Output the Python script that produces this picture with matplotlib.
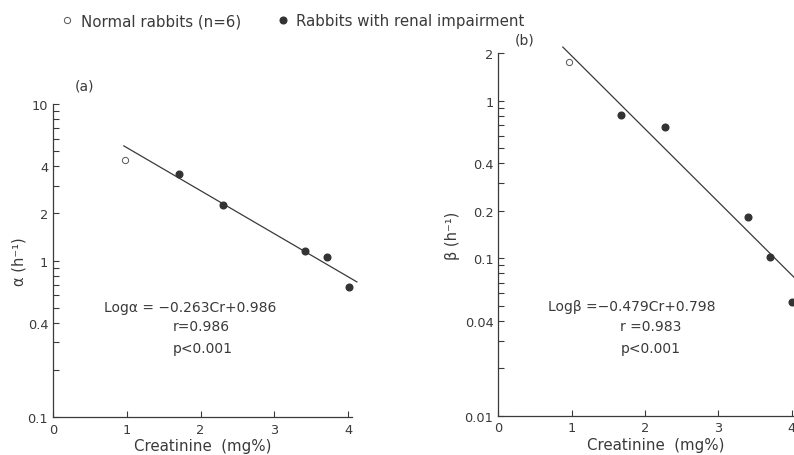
import matplotlib.pyplot as plt
from matplotlib.lines import Line2D
from matplotlib.ticker import FixedLocator, LogLocator, NullFormatter

# creatinine (mg%) and rate constants
normal_cr = [0.98]
normal_alpha = [4.4]
renal_cr = [1.71, 2.31, 3.42, 3.71, 4.01]
renal_alpha = [3.55, 2.26, 1.15, 1.05, 0.68]

normal_cr_b = [0.96]
normal_beta = [1.76]
renal_cr_b = [1.68, 2.28, 3.40, 3.71, 4.0]
renal_beta = [0.81, 0.68, 0.183, 0.102, 0.053]

# regression lines as drawn (end points)
fit_a_x = [0.96, 4.12]
fit_a_y = [5.4, 0.73]
fit_b_x = [0.88, 4.08]
fit_b_y = [2.19, 0.072]

alpha_ticks = [0.1, 0.4, 1, 2, 4, 10]
alpha_labels = ['0.1', '0.4', '1', '2', '4', '10']
beta_ticks = [0.01, 0.04, 0.1, 0.2, 0.4, 1, 2]
beta_labels = ['0.01', '0.04', '0.1', '0.2', '0.4', '1', '2']
x_ticks = [0, 1, 2, 3, 4]

ink = '#3a3a3a'
plt.rcParams['font.family'] = 'DejaVu Sans'
plt.rcParams['text.color'] = ink
plt.rcParams['axes.labelcolor'] = ink
plt.rcParams['xtick.color'] = ink
plt.rcParams['ytick.color'] = ink

fig = plt.figure(figsize=(7.94, 4.56), dpi=100)
ax_a = fig.add_axes([0.0668, 0.0833, 0.3762, 0.6864])
ax_b = fig.add_axes([0.6276, 0.0862, 0.397, 0.7948])


def style(ax, yticks, ylabels, ylim, xlim):
    ax.set_yscale('log')
    ax.set_ylim(*ylim)
    ax.set_xlim(*xlim)
    ax.yaxis.set_major_locator(FixedLocator(yticks))
    ax.set_yticklabels(ylabels)
    ax.yaxis.set_minor_locator(LogLocator(base=10, subs=range(2, 10)))
    ax.yaxis.set_minor_formatter(NullFormatter())
    ax.set_xticks(x_ticks)
    ax.set_xticklabels([str(t) for t in x_ticks])
    for s in ['top', 'right']:
        ax.spines[s].set_visible(False)
    for s in ['left', 'bottom']:
        ax.spines[s].set_color(ink)
        ax.spines[s].set_linewidth(0.9)
    ax.tick_params(which='both', direction='in', length=4.5, width=0.8, labelsize=9.3)
    ax.tick_params(axis='x', pad=4)
    ax.set_xlabel('Creatinine  (mg%)', fontsize=10.8, labelpad=2)


style(ax_a, alpha_ticks, alpha_labels, (0.1, 10), (0, 4.05))
style(ax_b, beta_ticks, beta_labels, (0.01, 2), (0, 4.3))

ax_a.plot(fit_a_x, fit_a_y, color=ink, lw=0.9, clip_on=False)
ax_a.plot(normal_cr, normal_alpha, 'o', mfc='white', mec='#555555', mew=0.7, ms=4.5, clip_on=False)
ax_a.plot(renal_cr, renal_alpha, 'o', color='#333333', ms=4.8, clip_on=False)
ax_a.set_ylabel('α (h⁻¹)', fontsize=10.5, labelpad=1)

ax_b.plot(fit_b_x, fit_b_y, color=ink, lw=0.9, clip_on=False)
ax_b.plot(normal_cr_b, normal_beta, 'o', mfc='white', mec='#555555', mew=0.7, ms=4.5, clip_on=False)
ax_b.plot(renal_cr_b, renal_beta, 'o', color='#333333', ms=4.8, clip_on=False)
ax_b.set_ylabel('β (h⁻¹)', fontsize=10.5, labelpad=3)

# regression annotations
ax_a.text(0.17, 0.35, 'Logα = −0.263Cr+0.986', transform=ax_a.transAxes, fontsize=10, va='center')
ax_a.text(0.40, 0.29, 'r=0.986', transform=ax_a.transAxes, fontsize=10, va='center')
ax_a.text(0.40, 0.22, 'p<0.001', transform=ax_a.transAxes, fontsize=10, va='center')

ax_b.text(0.159, 0.303, 'Logβ =−0.479Cr+0.798', transform=ax_b.transAxes, fontsize=10, va='center')
ax_b.text(0.387, 0.248, 'r =0.983', transform=ax_b.transAxes, fontsize=10, va='center')
ax_b.text(0.387, 0.187, 'p<0.001', transform=ax_b.transAxes, fontsize=10, va='center')

fig.text(0.094, 0.81, '(a)', fontsize=10, va='center')
fig.text(0.648, 0.912, '(b)', fontsize=10, va='center')

handles = [
    Line2D([], [], ls='none', marker='o', mfc='white', mec='#555555', mew=0.7, ms=4.5),
    Line2D([], [], ls='none', marker='o', color='#333333', ms=4.8),
]
fig.legend(handles, ['Normal rabbits (n=6)', 'Rabbits with renal impairment'],
           loc='center left', bbox_to_anchor=(0.077, 0.952), ncol=2, frameon=False,
           fontsize=10.8, handlelength=0.8, handletextpad=0.5, columnspacing=2.4,
           borderpad=0, borderaxespad=0)

fig.savefig('out.png', dpi=100)
